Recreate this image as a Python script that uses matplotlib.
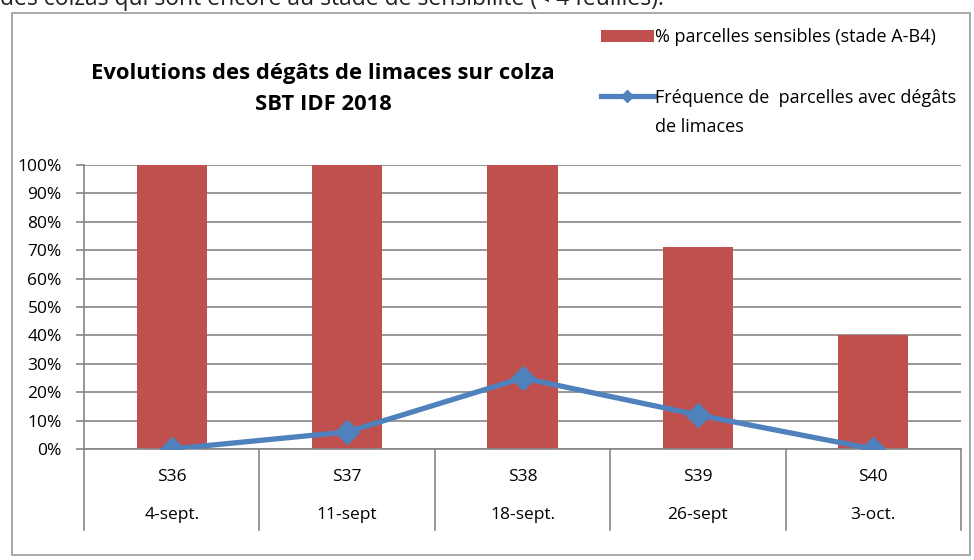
import matplotlib
matplotlib.use('Agg')
from matplotlib import pyplot as plt
from matplotlib.patches import Rectangle
from matplotlib.ticker import PercentFormatter

# Données
semaines = ['S36', 'S37', 'S38', 'S39', 'S40']
dates = ['4-sept.', '11-sept', '18-sept.', '26-sept', '3-oct.']
sensibles = [100, 100, 100, 71, 40]
degats = [0, 6, 25, 12, 0]

rouge = '#C0504D'
bleu = '#4F81BD'
gris = '#868686'

plt.rcParams['font.family'] = ['Open Sans', 'DejaVu Sans']

fig = plt.figure(figsize=(9.74, 5.6), dpi=100)

# texte coupé en haut (ligne du document d'origine)
fig.text(0.0, 1 - 5/560, 'des colzas qui sont encore au stade de sensibilité (< 4 feuilles).',
         fontsize=16.5, va='baseline', ha='left', color='#222222')

# cadre du graphique
fig.patches.append(Rectangle((12/974, 5/560), 958/974, 542/560, transform=fig.transFigure,
                             fill=False, edgecolor='#9a9a9a', linewidth=1.2))

ax = fig.add_axes([84/974, 1 - 449/560, 877/974, 284/560])
x = list(range(len(semaines)))
barres = ax.bar(x, sensibles, width=0.4, color=rouge, zorder=2)
ligne, = ax.plot(x, degats, color=bleu, linewidth=3.8, marker='D', markersize=12.5, zorder=3)

ax.set_xlim(-0.5, len(semaines) - 0.5)
ax.set_ylim(0, 100)
ax.set_yticks(range(0, 101, 10))
ax.yaxis.set_major_formatter(PercentFormatter(decimals=0))
ax.grid(axis='y', color=gris, linewidth=1.2, zorder=0)
ax.tick_params(axis='y', length=6, color=gris, width=1.2, labelsize=12.5, pad=10)
ax.tick_params(axis='x', length=0, labelbottom=False)
for s in ['top', 'right']:
    ax.spines[s].set_visible(False)
ax.spines['left'].set_color(gris)
ax.spines['left'].set_linewidth(1.2)
ax.spines['bottom'].set_color(gris)
ax.spines['bottom'].set_linewidth(1.2)

# axe des catégories à deux niveaux
for i in range(len(semaines) + 1):
    ax.plot([i - 0.5, i - 0.5], [0, -28.5], color=gris, linewidth=1.2,
            clip_on=False, transform=ax.transData)
for i, (s, d) in enumerate(zip(semaines, dates)):
    ax.text(i, -10, s, ha='center', va='center', fontsize=12.5)
    ax.text(i, -23.3, d, ha='center', va='center', fontsize=12.5)

fig.text(323/974, 1 - 73/560, 'Evolutions des dégâts de limaces sur colza',
         ha='center', va='center', fontsize=15.8, fontweight='bold')
fig.text(323/974, 1 - 104/560, 'SBT IDF 2018',
         ha='center', va='center', fontsize=15.8, fontweight='bold')

leg = fig.legend([barres, ligne],
                 ['% parcelles sensibles (stade A-B4)',
                  'Fréquence de  parcelles avec dégâts'],
                 loc='upper left', bbox_to_anchor=(594/974, 1 - 21/560), frameon=False,
                 fontsize=13, handlelength=2.9, handletextpad=0.1, labelspacing=2.35,
                 borderaxespad=0, markerscale=0.5)
# suite du libellé, sous la première ligne comme dans Excel
fig.text(655/974, 1 - 127/560, 'de limaces', ha='left', va='center', fontsize=13)

fig.savefig('out.png', dpi=100)
